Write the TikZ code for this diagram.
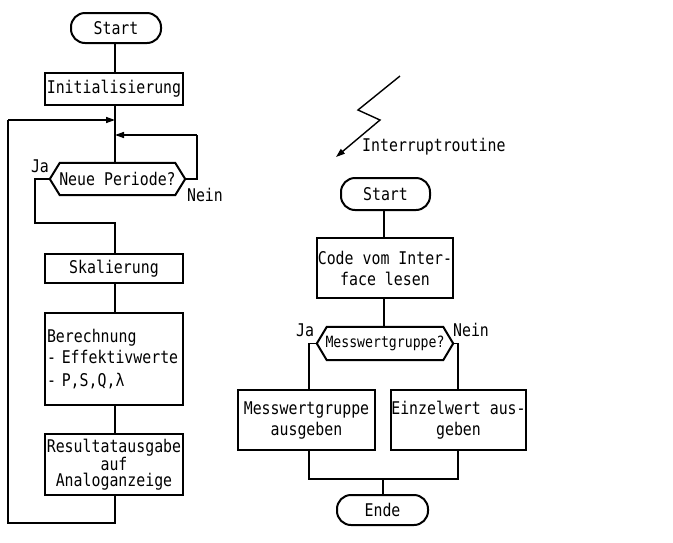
\documentclass[tikz,border=0pt]{standalone}
\usepackage{fontspec}
\newfontfamily\tw[FakeStretch=0.85]{DejaVu Sans Mono}
\usetikzlibrary{arrows.meta}
\begin{document}
\begin{tikzpicture}[x=1pt,y=-1pt,
  every node/.style={font=\tw\fontsize{17.5}{21}\selectfont},
  box/.style={draw, line width=2pt, inner sep=0pt, align=center},
  term/.style={draw, line width=2pt, rounded corners=14pt, inner sep=0pt},
  hexn/.style={inner sep=0pt},
  hexd/.style={line width=2pt},
  conn/.style={line width=1.4pt},
  arr/.style={conn, -{Triangle[length=9pt,width=6pt]}},
  lbl/.style={inner sep=0pt}]
\useasboundingbox (0,0) rectangle (673,542);

% ---------- left flow ----------
\node[term, minimum width=90pt, minimum height=30pt] (s1) at (116,28) {Start};
\node[box, minimum width=138pt, minimum height=32pt] (init) at (114,89) {Initialisierung};
\node[hexn, minimum width=135pt, minimum height=32pt] (d1) at (117.5,179) {Neue Periode?};
\draw[hexd] ([xshift=10pt]d1.north west) -- ([xshift=-10pt]d1.north east) -- (d1.east)
  -- ([xshift=-10pt]d1.south east) -- ([xshift=10pt]d1.south west) -- (d1.west) -- cycle;
\node[box, minimum width=138pt, minimum height=29pt] (skal) at (114,268.5) {Skalierung};
\node[box, minimum width=138pt, minimum height=92pt, text width=134pt, align=left] (ber) at (114,359)
  {Berechnung\\- Effektivwerte\\[2pt]- P,S,Q,λ};
\node[box, minimum width=138pt, minimum height=61pt, font=\tw\fontsize{17.5}{16.5}\selectfont] (res) at (114,464.5)
  {Resultatausgabe\\auf\\Analoganzeige};

\node[lbl] (ja1) at (40,166) {Ja};
\node[lbl] (nein1) at (205,195) {Nein};

\coordinate (m1) at (115,120);
\coordinate (m2) at (115,135);
\coordinate (nr1) at (197,179);
\coordinate (nr2) at (197,135);
\coordinate (ja1a) at (35,179);
\coordinate (ja1b) at (35,223);
\coordinate (ja1c) at (115,223);
\coordinate (lb1) at (115,523);
\coordinate (lb2) at (8,523);
\coordinate (lb3) at (8,120);

\draw[conn] (s1.south -| m1) -- (init.north -| m1);
\draw[conn] (init.south -| m1) -- (d1.north -| m1);
\draw[conn] (d1.east) -- (nr1) -- (nr2);
\draw[arr] (nr2) -- (m2);
\draw[conn] (d1.west) -- (ja1a) -- (ja1b) -- (ja1c) -- (skal.north -| ja1c);
\draw[conn] (skal.south -| m1) -- (ber.north -| m1);
\draw[conn] (ber.south -| m1) -- (res.north -| m1);
\draw[conn] (res.south -| m1) -- (lb1) -- (lb2) -- (lb3);
\draw[arr] (lb3) -- (m1);

% ---------- interrupt routine ----------
\coordinate (z0) at (400,76);
\coordinate (z1) at (358,110);
\coordinate (z2) at (380,120);
\coordinate (z3) at (336,157);
\draw[arr, line join=miter] (z0) -- (z1) -- (z2) -- (z3);
\node[lbl, anchor=west] (intr) at (362,147) {Interruptroutine};

\node[term, minimum width=89pt, minimum height=32pt] (s2) at (385.5,194) {Start};
\node[box, minimum width=136pt, minimum height=60pt] (code) at (385,268) {Code vom Inter-\\face lesen};
\node[hexn, minimum width=136pt, minimum height=33pt, font=\tw\fontsize{15.5}{18}\selectfont] (d2) at (385,343.5) {Messwertgruppe?};
\draw[hexd] ([xshift=10pt]d2.north west) -- ([xshift=-10pt]d2.north east) -- (d2.east)
  -- ([xshift=-10pt]d2.south east) -- ([xshift=10pt]d2.south west) -- (d2.west) -- cycle;
\node[box, minimum width=137pt, minimum height=60pt] (mess) at (306.5,420) {Messwertgruppe\\ausgeben};
\node[box, minimum width=135pt, minimum height=60pt] (einz) at (458.5,420) {Einzelwert aus-\\geben};
\node[term, minimum width=91pt, minimum height=30pt] (ende) at (382.5,510) {Ende};

\node[lbl] (ja2) at (305,330) {Ja};
\node[lbl] (nein2) at (471,330) {Nein};

\coordinate (c2) at (384,300);
\coordinate (l2a) at (309,343.5);
\coordinate (r2a) at (458,343.5);
\coordinate (l2b) at (309,479);
\coordinate (r2b) at (458,479);
\coordinate (e2) at (383,479);

\draw[conn] (s2.south -| c2) -- (code.north -| c2);
\draw[conn] (code.south -| c2) -- (d2.north -| c2);
\draw[conn] (d2.west) -- (l2a) -- (mess.north -| l2a);
\draw[conn] (d2.east) -- (r2a) -- (einz.north -| r2a);
\draw[conn] (mess.south -| l2b) -- (l2b) -- (r2b) -- (einz.south -| r2b);
\draw[conn] (e2) -- (ende.north -| e2);
\end{tikzpicture}
\end{document}
